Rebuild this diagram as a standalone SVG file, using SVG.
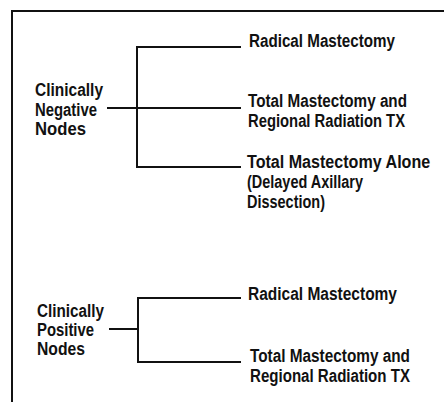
<svg xmlns="http://www.w3.org/2000/svg" width="444" height="402" viewBox="0 0 444 402">
<style>
text{font-family:"Liberation Sans",Arial,sans-serif;font-weight:bold;font-size:18px;fill:#111}
.ln{stroke:#111;stroke-width:2;fill:none;stroke-linecap:square}
</style>
<rect width="444" height="402" fill="#fff"/>
<g id="frame"><path class="ln" d="M12,402 V11 H444"/></g>
<g id="connectors">
<path class="ln" d="M240,47 H137 V167 H240"/>
<path class="ln" d="M108,108 H240"/>
<path class="ln" d="M240,298 H138 V362 H240"/>
<path class="ln" d="M110,329 H138"/>
</g>
<g id="neg">
<text x="35" y="96" textLength="68" lengthAdjust="spacingAndGlyphs">Clinically</text>
<text x="35" y="115.5" textLength="62" lengthAdjust="spacingAndGlyphs">Negative</text>
<text x="35" y="135" textLength="51" lengthAdjust="spacingAndGlyphs">Nodes</text>
</g>
<g id="neg-radical"><text x="249" y="47" textLength="146" lengthAdjust="spacingAndGlyphs">Radical Mastectomy</text></g>
<g id="neg-total-rad">
<text x="248" y="107" textLength="159" lengthAdjust="spacingAndGlyphs">Total Mastectomy and</text>
<text x="248" y="127" textLength="157" lengthAdjust="spacingAndGlyphs">Regional Radiation TX</text>
</g>
<g id="neg-total-alone">
<text transform="translate(247,168) scale(0.894,1)">Total Mastectomy Alone</text>
<text x="247" y="188" textLength="116" lengthAdjust="spacingAndGlyphs">(Delayed Axillary</text>
<text x="247" y="208" textLength="78" lengthAdjust="spacingAndGlyphs">Dissection)</text>
</g>
<g id="pos">
<text x="37" y="317" textLength="67" lengthAdjust="spacingAndGlyphs">Clinically</text>
<text x="37" y="336" textLength="57" lengthAdjust="spacingAndGlyphs">Positive</text>
<text x="37" y="355" textLength="48" lengthAdjust="spacingAndGlyphs">Nodes</text>
</g>
<g id="pos-radical"><text x="248" y="300" textLength="149" lengthAdjust="spacingAndGlyphs">Radical Mastectomy</text></g>
<g id="pos-total-rad">
<text x="250" y="362" textLength="160" lengthAdjust="spacingAndGlyphs">Total Mastectomy and</text>
<text x="250" y="382" textLength="160" lengthAdjust="spacingAndGlyphs">Regional Radiation TX</text>
</g>
</svg>
